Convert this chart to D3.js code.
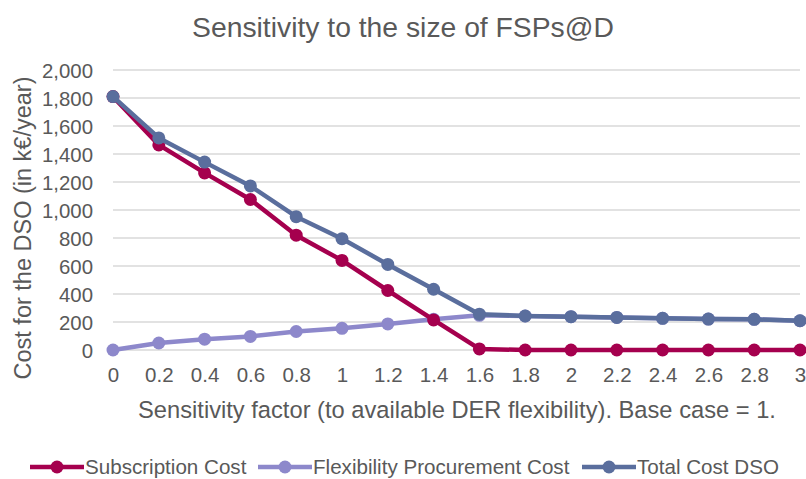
<!DOCTYPE html>
<html><head><meta charset="utf-8">
<script src="https://cdn.jsdelivr.net/npm/d3@7"></script>
<style>body{margin:0;background:#fff}svg text{font-family:"Liberation Sans",Arial,sans-serif;fill:#595959}</style>
</head><body><svg id="c" width="806" height="479"></svg>
<script>
const categories=["0","0.2","0.4","0.6","0.8","1","1.2","1.4","1.6","1.8","2","2.2","2.4","2.6","2.8","3"];
const subscriptionCost=[1810,1465,1265,1075,820,640,425,215,8,0,0,0,0,0,0,0];
const flexibilityCost=[0,50,77,97,132,155,186,219,248,243,238,233,226,221,219,209];
const totalCost=[1810,1515,1342,1172,952,795,611,434,256,243,238,233,226,221,219,209];
const yTicks=[0,200,400,600,800,1000,1200,1400,1600,1800,2000];
const seriesNames=["Subscription Cost","Flexibility Procurement Cost","Total Cost DSO"];
const colors=["#A5004E","#8D88CB","#5A6E9D"];

const svg=d3.select("#c");
const x=d3.scalePoint().domain(categories).range([113,800]);
const y=d3.scaleLinear().domain([0,2000]).range([350,70]);

svg.append("text").attr("x",403).attr("y",36.5).attr("text-anchor","middle").attr("font-size",28.3).text("Sensitivity to the size of FSPs@D");

const g=svg.append("g");
g.selectAll("line.grid").data(yTicks).join("line").attr("x1",113).attr("x2",800)
 .attr("y1",d=>y(d)).attr("y2",d=>y(d)).attr("stroke","#d9d9d9").attr("stroke-width",1.3);

const yAxis=d3.axisLeft(y).tickValues(yTicks).tickSize(0).tickPadding(0).tickFormat(d3.format(","));
const ya=svg.append("g").attr("transform","translate(93,0)").call(yAxis);
ya.select(".domain").remove();
ya.selectAll("text").attr("font-size",20.4).attr("dy","0.36em").attr("fill","#595959").attr("font-family","Liberation Sans");

const xAxis=d3.axisBottom(x).tickSize(0).tickPadding(0);
const xa=svg.append("g").attr("transform","translate(0,382)").call(xAxis);
xa.select(".domain").remove();
xa.selectAll("text").attr("font-size",20.5).attr("dy","0").attr("fill","#595959").attr("font-family","Liberation Sans");

svg.append("text").attr("x",457).attr("y",418).attr("text-anchor","middle").attr("font-size",23.7).text("Sensitivity factor (to available DER flexibility). Base case = 1.");
svg.append("text").attr("transform","translate(31,228) rotate(-90)").attr("text-anchor","middle").attr("font-size",23.5).text("Cost for the DSO (in k€/year)");

const data=[subscriptionCost,flexibilityCost,totalCost];
const line=d3.line().x((d,i)=>x(categories[i])).y(d=>y(d));
const order=[1,0,2];
order.forEach(k=>{
  const s=svg.append("g");
  s.append("path").datum(data[k]).attr("d",line).attr("fill","none").attr("stroke",colors[k]).attr("stroke-width",4.5).attr("stroke-linejoin","round");
  s.selectAll("circle").data(data[k]).join("circle").attr("cx",(d,i)=>x(categories[i])).attr("cy",d=>y(d)).attr("r",6.5).attr("fill",colors[k]);
});

// legend
const lg=svg.append("g");
const items=[{x:30,w:54},{x:258,w:54},{x:582,w:54}];
seriesNames.forEach((n,k)=>{
  const it=items[k];
  lg.append("line").attr("x1",it.x).attr("x2",it.x+it.w).attr("y1",467).attr("y2",467).attr("stroke",colors[k]).attr("stroke-width",4.5);
  lg.append("circle").attr("cx",it.x+it.w/2).attr("cy",467).attr("r",6.5).attr("fill",colors[k]);
  lg.append("text").attr("x",it.x+it.w+1).attr("y",474).attr("font-size",20.6).text(n);
});
</script></body></html>
